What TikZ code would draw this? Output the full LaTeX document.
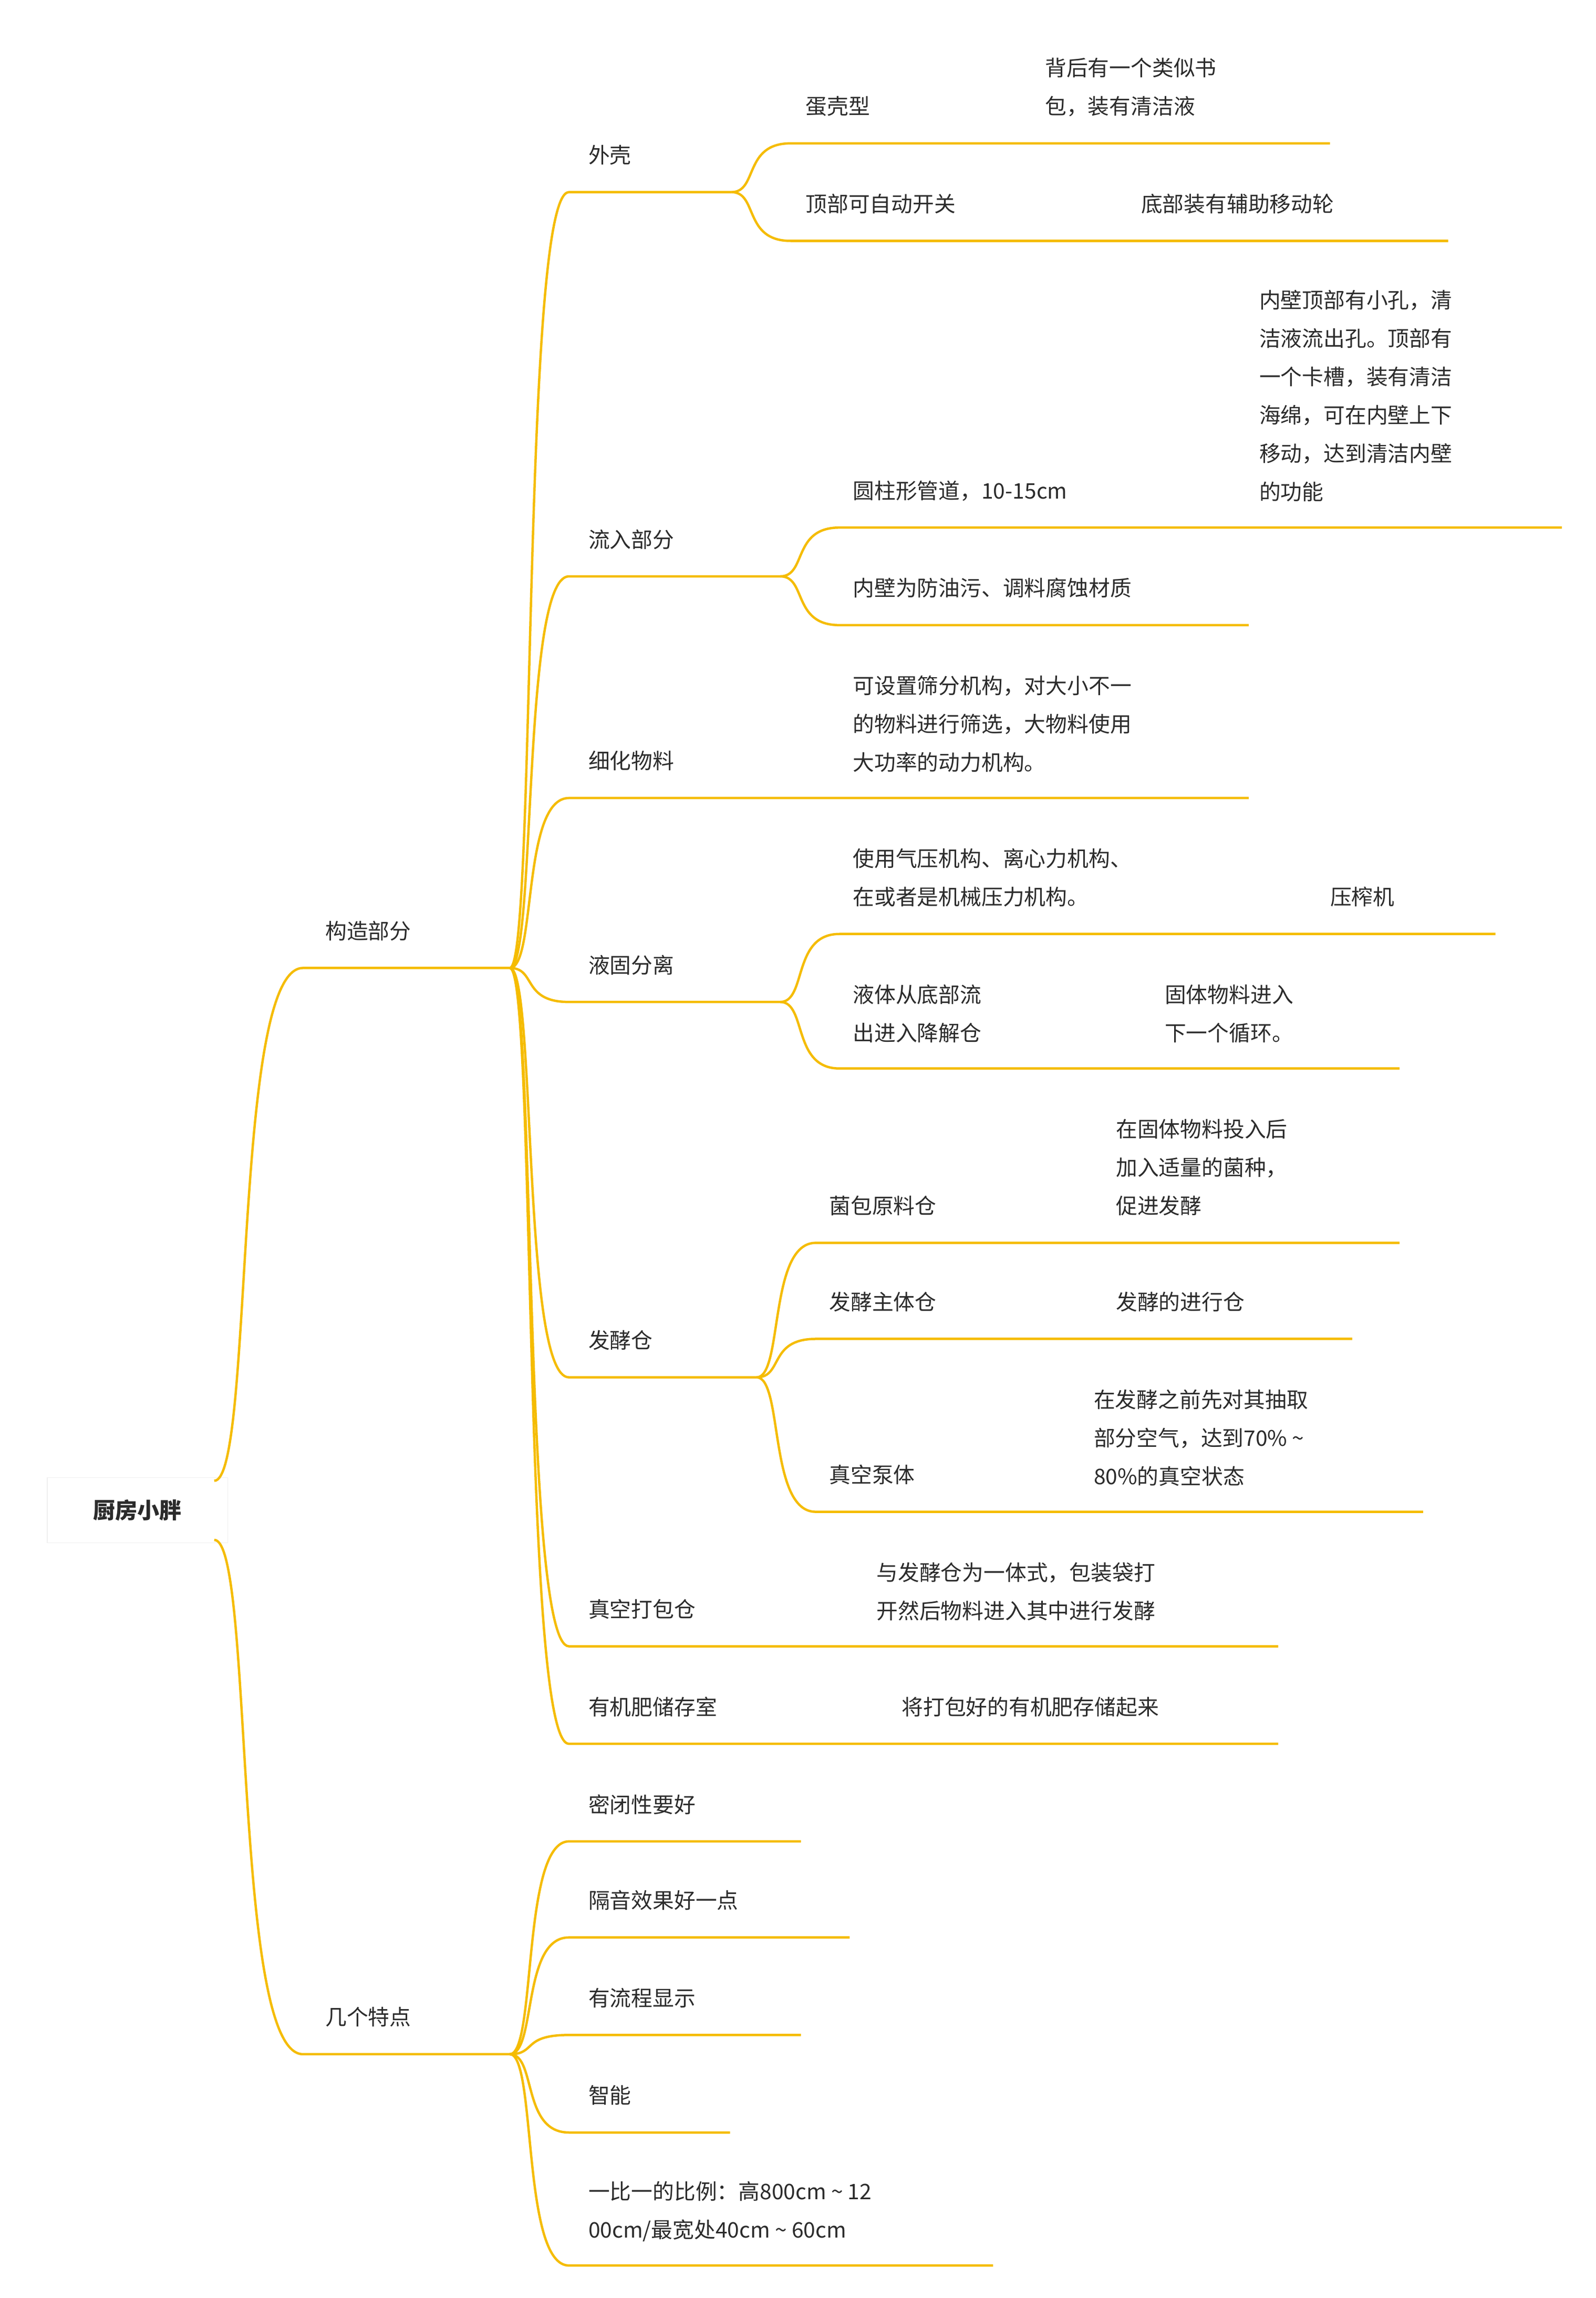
\documentclass[tikz,border=0pt]{standalone}
\usepackage{fontspec}
\setmainfont{Noto Sans CJK SC}
\usetikzlibrary{calc}
\definecolor{lc}{HTML}{F5BC00}
\definecolor{tc}{HTML}{2B2B2B}
\tikzset{
  br/.style={draw=lc,line width=1.6pt},
  tx/.style={anchor=north west,inner sep=0pt,text=tc,align=left,font=\fontsize{14.5}{26}\selectfont},
}
\newcommand{\bra}[3]{\draw[br] let \p1=(#1),\p2=(#2) in (\p1) .. controls ({\x1+0.45*(\x2-\x1)},\y1) and ({\x1+0.2*(\x2-\x1)},\y2) .. (\p2) -- (#3);}
\begin{document}
\begin{tikzpicture}[x=1pt,y=-1pt]
\useasboundingbox[fill=white] (0,0) rectangle (1080,1555);
% root
\node[draw=gray!12,fill=white,minimum width=122,minimum height=44,text=tc,font=\fontsize{15}{18}\selectfont\bfseries] (root) at (93,1022) {厨房小胖};
\coordinate (rt) at (145,1002); \coordinate (rb) at (145,1042);
% level 1
\coordinate (a0) at (205,655); \coordinate (a1) at (345,655);
\coordinate (b0) at (205,1390); \coordinate (b1) at (345,1390);
\bra{rt}{a0}{a1} \bra{rb}{b0}{b1}
\node[tx] (ta) at (220,623) {构造部分};
\node[tx] (tb) at (220,1358) {几个特点};
\foreach \k/\yy/\e in {w/130/495, l/390/528, x/540/845, y/678/528, f/932/512, v/1114/865, s/1180/865}{
  \coordinate (\k0) at (385,\yy); \coordinate (\k1) at (\e,\yy);
  \bra{a1}{\k0}{\k1}
}
\foreach \k/\yy/\e in {p/1246/542, q/1311/575, r/1377/542, z/1443/494, u/1533/672}{
  \coordinate (\k0) at (385,\yy); \coordinate (\k1) at (\e,\yy);
  \bra{b1}{\k0}{\k1}
}
\node[tx] at (398,98) {外壳};
\node[tx] at (398,358) {流入部分};
\node[tx] at (398,508) {细化物料};
\node[tx] at (398,646) {液固分离};
\node[tx] at (398,900) {发酵仓};
\node[tx] at (398,1082) {真空打包仓};
\node[tx] at (398,1148) {有机肥储存室};
\node[tx] at (398,1214) {密闭性要好};
\node[tx] at (398,1279) {隔音效果好一点};
\node[tx] at (398,1345) {有流程显示};
\node[tx] at (398,1411) {智能};
\node[tx] at (398,1476) {一比一的比例：高800cm \textasciitilde{} 12\\00cm/最宽处40cm \textasciitilde{} 60cm};
% 外壳 children
\coordinate (w10) at (535,97); \coordinate (w11) at (900,97);
\coordinate (w20) at (535,163); \coordinate (w21) at (980,163);
\bra{w1}{w10}{w11} \bra{w1}{w20}{w21}
\node[tx] at (545,65) {蛋壳型};
\node[tx] at (707,39) {背后有一个类似书\\包，装有清洁液};
\node[tx] at (545,131) {顶部可自动开关};
\node[tx] at (772,131) {底部装有辅助移动轮};
% 流入部分 children
\coordinate (l10) at (568,357); \coordinate (l11) at (1057,357);
\coordinate (l20) at (568,423); \coordinate (l21) at (845,423);
\bra{l1}{l10}{l11} \bra{l1}{l20}{l21}
\node[tx] at (577,325) {圆柱形管道，10-15cm};
\node[tx] at (852,196) {内壁顶部有小孔，清\\洁液流出孔。顶部有\\一个卡槽，装有清洁\\海绵，可在内壁上下\\移动，达到清洁内壁\\的功能};
\node[tx] at (577,391) {内壁为防油污、调料腐蚀材质};
% 细化物料
\node[tx] at (577,457) {可设置筛分机构，对大小不一\\的物料进行筛选，大物料使用\\大功率的动力机构。};
% 液固分离 children
\coordinate (y10) at (568,632); \coordinate (y11) at (1012,632);
\coordinate (y20) at (568,723); \coordinate (y21) at (947,723);
\bra{y1}{y10}{y11} \bra{y1}{y20}{y21}
\node[tx] at (577,574) {使用气压机构、离心力机构、\\在或者是机械压力机构。};
\node[tx] at (900,600) {压榨机};
\node[tx] at (577,666) {液体从底部流\\出进入降解仓};
\node[tx] at (788,666) {固体物料进入\\下一个循环。};
% 发酵仓 children
\coordinate (f10) at (552,841); \coordinate (f11) at (947,841);
\coordinate (f20) at (552,906); \coordinate (f21) at (915,906);
\coordinate (f30) at (552,1023); \coordinate (f31) at (963,1023);
\bra{f1}{f10}{f11} \bra{f1}{f20}{f21} \bra{f1}{f30}{f31}
\node[tx] at (561,809) {菌包原料仓};
\node[tx] at (755,757) {在固体物料投入后\\加入适量的菌种，\\促进发酵};
\node[tx] at (561,874) {发酵主体仓};
\node[tx] at (755,874) {发酵的进行仓};
\node[tx] at (561,991) {真空泵体};
\node[tx] at (740,940) {在发酵之前先对其抽取\\部分空气，达到70\% \textasciitilde{}\\80\%的真空状态};
% 真空打包仓, 有机肥储存室
\node[tx] at (593,1057) {与发酵仓为一体式，包装袋打\\开然后物料进入其中进行发酵};
\node[tx] at (610,1148) {将打包好的有机肥存储起来};
\end{tikzpicture}
\end{document}
